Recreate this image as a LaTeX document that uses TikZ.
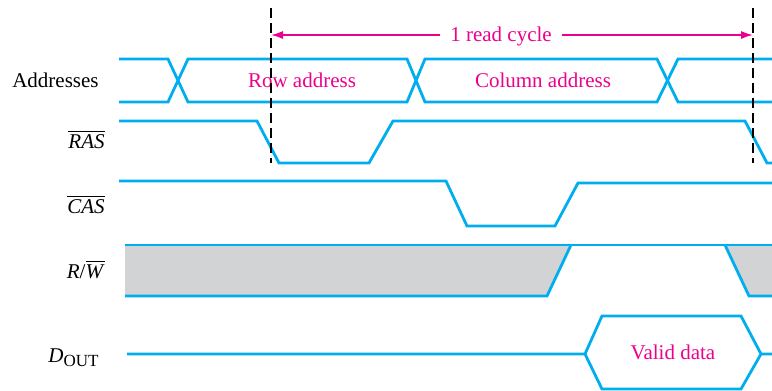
\documentclass[tikz,border=0pt]{standalone}
\usepackage{fontspec}
\setmainfont{Liberation Serif}
\usetikzlibrary{positioning,arrows.meta}
\definecolor{sigblue}{RGB}{0,174,239}
\definecolor{cyclemag}{RGB}{236,0,140}
\definecolor{rwgrey}{RGB}{209,211,212}
\newcommand{\barit}[1]{$\overline{\mbox{\textit{#1}}}$}

\begin{document}
\begin{tikzpicture}[>={Latex[length=6pt,width=4pt]},x=0.5pt,y=-0.5pt,
        wave/.style={draw=sigblue,line width=1.4pt},
        signame/.style={anchor=base east,inner sep=0pt,font=\fontsize{10.5}{12}\selectfont},
        busname/.style={anchor=base,text=cyclemag,font=\fontsize{10.5}{12}\selectfont},
        cycmark/.style={draw=black,line width=0.75pt,dash pattern=on 5pt off 2.5pt}]
        \useasboundingbox (0,0) rectangle (772,391);
        % signal names
        \node[signame] (addr) at (99,87) {Addresses};
        \node[signame] (ras) at (105,148) {\barit{RAS}};
        \node[signame] (cas) at (105,213) {\barit{CAS}};
        \node[signame] (rw) at (105,278) {\textit{R}/\barit{W}};
        \node[signame] (dout) at (99,362) {\textit{D}\raisebox{-0.45ex}{\fontsize{8.5}{10}\selectfont OUT}};
        % addresses
        \draw[wave] (119,59) -- (168,59) -- (188,102) -- (407,102) -- (425,59) -- (657,59) -- (678,102) -- (772,102);
        \draw[wave] (119,102) -- (168,102) -- (188,59) -- (407,59) -- (425,102) -- (657,102) -- (678,59) -- (772,59);
        \node[busname] (row) at (302,87) {Row address};
        \node[busname] (col) at (543,87) {Column address};
        % RAS and CAS
        \draw[wave] (119,121) -- (257,121) -- (279,163) -- (369,163) -- (393,121) -- (745,121) -- (767,163) -- (772,163);
        \draw[wave] (119,181) -- (446,181) -- (467,226) -- (555,226) -- (578,183) -- (772,183);
        % R/W
        \fill[rwgrey] (125,245) -- (571,245) -- (547,296) -- (125,296) -- cycle;
        \fill[rwgrey] (725,245) -- (772,245) -- (772,296) -- (749,296) -- cycle;
        \draw[wave] (125,245) -- (772,245);
        \draw[wave] (125,296) -- (547,296) -- (571,245);
        \draw[wave] (725,245) -- (749,296) -- (772,296);
        % data out
        \draw[wave] (127,354) -- (585,354) -- (602,316) -- (741,316) -- (761,354) -- (772,354);
        \draw[wave] (585,354) -- (602,389) -- (741,389) -- (761,354);
        \node[busname] (valid) at (673,359) {Valid data};
        % read cycle
        \coordinate (cycL) at (271,35);
        \coordinate (cycR) at (753,35);
        \draw[cycmark] (271,8) -- (271,163);
        \draw[cycmark] (753,8) -- (753,163);
        \node[anchor=base,text=cyclemag,inner xsep=5pt,font=\fontsize{10.5}{12}\selectfont] (cyc) at (501,41) {1 read cycle};
        \draw[->,cyclemag,line width=0.8pt] (cyc.west |- cycL) -- (cycL);
        \draw[->,cyclemag,line width=0.8pt] (cyc.east |- cycR) -- (cycR);
\end{tikzpicture}
\end{document}
